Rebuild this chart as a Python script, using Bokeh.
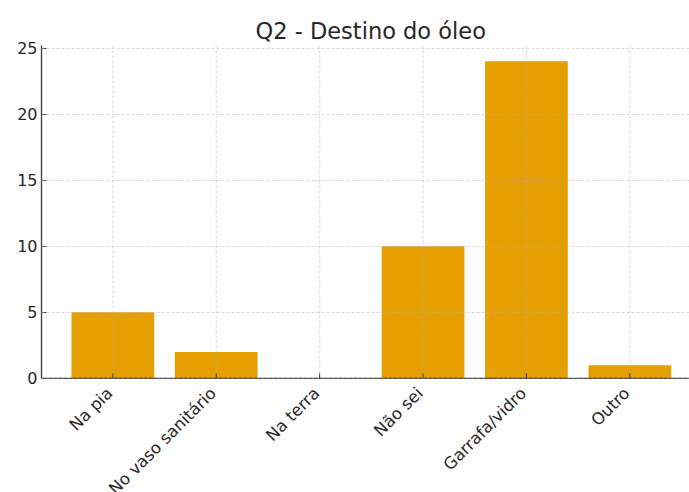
import math
from bokeh.plotting import figure
from bokeh.models import ColumnDataSource, FixedTicker, Range1d, Title, Span
from bokeh.core.properties import value
from bokeh.embed import file_html
from bokeh.resources import INLINE

categories = ["Na pia", "No vaso sanitário", "Na terra", "Não sei", "Garrafa/vidro", "Outro"]
counts = [5, 2, 0, 10, 24, 1]
y_ticks = [0, 5, 10, 15, 20, 25]
title_text = "Q2 - Destino do óleo"

FONT = "DejaVu Sans"
BAR = "#E69F00"
TXT = "#262626"
AX = "#3a3a3a"
Y_MAX = 25.2
Y_MIN_VIEW = -8.64   # room below the baseline for the rotated category labels

idx = list(range(len(categories)))
n = len(idx)
src = ColumnDataSource(dict(x=idx, top=counts, label=categories,
                            zero=[0] * n, ymax=[Y_MAX] * n))

p = figure(width=689, height=492, output_backend="svg", toolbar_location=None,
           x_range=Range1d(-0.69, 5.577), y_range=Range1d(Y_MIN_VIEW, Y_MAX),
           min_border_left=41, min_border_right=0, min_border_top=45, min_border_bottom=0)
p.outline_line_color = None
p.background_fill_color = "white"
p.xgrid.visible = False
p.xaxis.visible = False

p.vbar(x="x", top="top", bottom=0, width=0.8, source=src, fill_color=BAR, line_color=None)

# vertical grid lines (only above the baseline)
p.segment(x0="x", y0="zero", x1="x", y1="ymax", source=src,
          line_color="#b0b0b0", line_alpha=0.6, line_dash="3 2", line_width=0.8)

# horizontal grid
g = p.ygrid[0]
g.grid_line_color = "#b0b0b0"
g.grid_line_alpha = 0.6
g.grid_line_dash = "3 2"
g.grid_line_width = 0.8
g.level = "overlay"
g.ticker = FixedTicker(ticks=y_ticks)

# y axis
ax = p.yaxis[0]
ax.ticker = FixedTicker(ticks=y_ticks)
ax.bounds = (0, Y_MAX)
ax.axis_line_color = AX
ax.axis_line_width = 1.3
ax.major_tick_line_color = AX
ax.major_tick_in = 5
ax.major_tick_out = 0
ax.minor_tick_line_color = None
ax.major_label_text_font = FONT
ax.major_label_text_font_size = "16px"
ax.major_label_text_color = TXT
ax.major_label_standoff = 4

# bottom spine + inward ticks
p.add_layout(Span(location=0, dimension="width", line_color=AX, line_width=1.3))
p.ray(x="x", y="zero", length=5, length_units="screen", angle=math.pi / 2,
      source=src, line_color=AX, line_width=1)

# rotated category labels
p.text(x="x", y="zero", text="label", source=src, angle=math.pi / 4,
       text_align="right", text_baseline="middle", x_offset=-3, y_offset=12,
       text_font=value(FONT), text_font_size="16.5px", text_color=TXT)

p.title = Title(text=title_text, align="left", offset=214, text_font=FONT,
                text_font_size="22.5px", text_font_style="normal", text_color=TXT,
                standoff=4)

open("out.html", "w").write(file_html(p, INLINE))
